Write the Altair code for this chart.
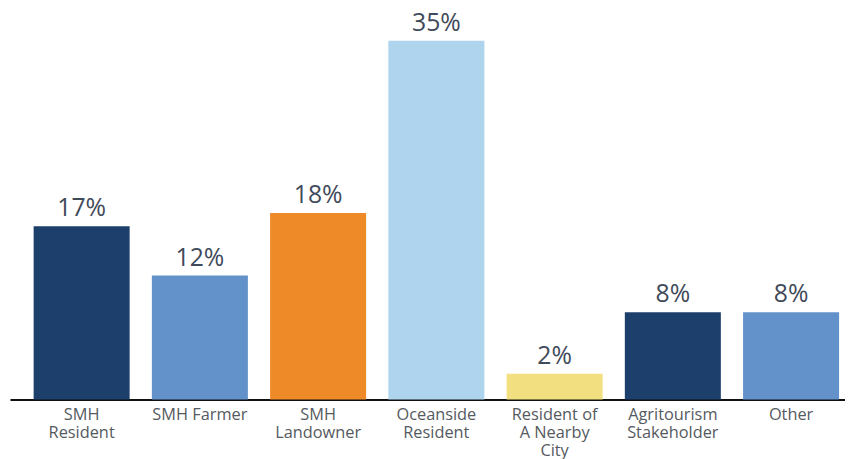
import altair as alt
import pandas as pd

categories = ["SMH|Resident", "SMH Farmer", "SMH|Landowner", "Oceanside|Resident",
              "Resident of|A Nearby|City", "Agritourism|Stakeholder", "Other"]
values = [16.9, 12.1, 18.2, 35.0, 2.5, 8.5, 8.5]
labels = ["17%", "12%", "18%", "35%", "2%", "8%", "8%"]
colors = ["#1d3f6b", "#6391c9", "#ef8a29", "#aed4ee", "#f2df80", "#1d3f6b", "#6391c9"]

df = pd.DataFrame({"cat": categories, "value": values, "label": labels, "color": colors})

x = alt.X("cat:N", sort=categories,
          scale=alt.Scale(paddingInner=0.188, paddingOuter=0.125, align=0.8),
          axis=alt.Axis(title=None, labelAngle=0, ticks=False, domainColor="#111111",
                        domainWidth=2, labelExpr="split(datum.value, '|')",
                        labelFont="Open Sans", labelFontSize=16.5, labelColor="#555a60",
                        labelLineHeight=18.5, labelPadding=7, labelBaseline="top"))
y = alt.Y("value:Q", scale=alt.Scale(domain=[0, 35], nice=False, zero=True), axis=None)

bars = alt.Chart(df).mark_bar(clip=False).encode(
    x=x, y=y, color=alt.Color("color:N", scale=None))

text = alt.Chart(df).mark_text(baseline="bottom", dy=-5, font="Open Sans", fontSize=25,
                               color="#3f4a5a").encode(x=alt.X("cat:N", sort=categories), y=y,
                                                       text="label:N")

chart = (bars + text).properties(
    width=843, height=362,
    autosize=alt.AutoSizeParams(type="none"),
    padding={"left": 2, "top": 31, "right": 0, "bottom": 58},
).configure_view(stroke=None).configure_axis(grid=False)

chart.save("out.html", embed_options={"renderer": "svg", "actions": False})
